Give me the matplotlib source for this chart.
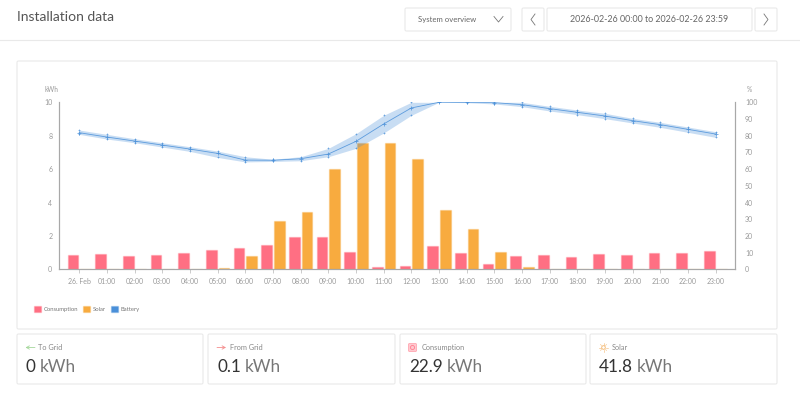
import numpy as np
import matplotlib
matplotlib.use("Agg")
import matplotlib.pyplot as plt
from matplotlib.patches import FancyBboxPatch, Patch, Circle

plt.rcParams['font.family'] = ['Lato', 'DejaVu Sans']

hours = ['26. Feb'] + ['%02d:00' % h for h in range(1, 24)]
consumption = [0.84, 0.92, 0.82, 0.84, 0.96, 1.16, 1.26, 1.48, 1.92, 1.96, 1.04, 0.14,
               0.20, 1.38, 0.98, 0.30, 0.82, 0.88, 0.74, 0.92, 0.84, 0.96, 0.98, 1.08]
solar = [0, 0, 0, 0, 0, 0.08, 0.80, 2.90, 3.45, 5.99, 7.54, 7.58,
         6.59, 3.58, 2.40, 1.04, 0.12, 0, 0, 0, 0, 0, 0, 0]
battery = [81.8, 79.2, 76.8, 74.4, 72.0, 69.4, 65.4, 65.3, 66.2, 69.0, 76.6, 87.0,
           96.6, 100, 99.9, 99.8, 98.6, 96.2, 94.0, 91.8, 89.0, 86.6, 83.8, 81.0]
battery_max = [83.4, 80.8, 78.2, 75.8, 73.4, 70.8, 67.4, 65.9, 67.4, 72.4, 81.2, 92.2,
               100, 100, 100, 100, 100, 97.6, 95.4, 93.4, 90.4, 88.0, 85.2, 82.4]
battery_min = [80.8, 78.0, 75.8, 73.2, 70.6, 67.0, 64.3, 64.6, 65.0, 67.4, 72.4, 81.6,
               92.2, 100, 99.8, 99.0, 97.4, 94.8, 92.6, 90.2, 87.6, 85.0, 82.0, 79.0]
kwh_ticks = [0, 2, 4, 6, 8, 10]
pct_ticks = list(range(0, 101, 10))

cards = ['To Grid', 'From Grid', 'Consumption', 'Solar']
card_values = ['0', '0.1', '22.9', '41.8']

RED = '#ff6f83'
ORANGE = '#f8ab3f'
BLUE = '#4a90d9'
BORDER = '#e9e9e9'
GREY = '#9a9a9a'
W, H = 800, 394

fig = plt.figure(figsize=(8, 3.94), dpi=100, facecolor='white')

# page furniture, in pixel coordinates
bg = fig.add_axes([0, 0, 1, 1])
bg.set_xlim(0, W)
bg.set_ylim(H, 0)
bg.axis('off')


def box(x0, y0, x1, y1):
    bg.add_patch(FancyBboxPatch((x0, y0), x1 - x0, y1 - y0, boxstyle='round,pad=0,rounding_size=1.5',
                                fc='white', ec=BORDER, lw=0.8))


bg.plot([0, W], [39.5, 39.5], color=BORDER, lw=0.8)
bg.text(17, 17, 'Installation data', fontsize=10, color='#555555', va='center', ha='left')

box(405, 8, 511, 31)
box(522, 8, 544, 31)
box(547, 8, 752, 31)
box(755, 8, 777, 31)
bg.text(418, 19.5, 'System overview', fontsize=5.6, color='#666666', va='center')
bg.text(649.5, 19.5, '2026-02-26 00:00 to 2026-02-26 23:59', fontsize=6.4, color='#666666',
        va='center', ha='center')
bg.plot([494, 498.5, 503], [16.5, 22, 16.5], color='#777777', lw=0.6)
bg.plot([535, 531, 535], [14, 19.5, 25], color='#777777', lw=0.6)
bg.plot([764, 768, 764], [14, 19.5, 25], color='#777777', lw=0.6)

box(17, 61, 777, 329)

card_x = [(17, 203), (208, 395), (400, 586), (590, 777)]
for (x0, x1), name, val in zip(card_x, cards, card_values):
    box(x0, 334, x1, 384)
    bg.text(x0 + 21.5, 347.3, name, fontsize=5.3, color='#888888', va='center')
    t = bg.text(x0 + 9, 366.5, val, fontsize=12.3, color='#333333', va='center')
    fig.canvas.draw()
    bb = t.get_window_extent()
    bg.text(bb.x1 + 4, 366.5, 'kWh', fontsize=12.3, color='#777777', va='center')

# small card icons
bg.annotate('', xy=(25.5, 347.5), xytext=(35, 347.5),
            arrowprops=dict(arrowstyle='->,head_width=0.12,head_length=0.22', color='#a5d79b', lw=0.6, shrinkA=0, shrinkB=0))
bg.annotate('', xy=(226, 347.5), xytext=(217, 347.5),
            arrowprops=dict(arrowstyle='->,head_width=0.12,head_length=0.22', color='#f58e8e', lw=0.6, shrinkA=0, shrinkB=0))
bg.add_patch(FancyBboxPatch((408.5, 343.5), 8, 8, boxstyle='round,pad=0,rounding_size=1',
                            fc='#ffc9cf', ec='#ff9aa7', lw=0.5))
bg.add_patch(Circle((412.5, 347.5), 2, fc='none', ec=RED, lw=0.5))
bg.add_patch(Circle((603.5, 347.5), 1.8, fc='none', ec='#f3b469', lw=0.6))
for a in np.arange(0, 2 * np.pi, np.pi / 4):
    bg.plot([603.5 + 2.9 * np.cos(a), 603.5 + 4.2 * np.cos(a)],
            [347.5 + 2.9 * np.sin(a), 347.5 + 4.2 * np.sin(a)], color='#f3b469', lw=0.4)

# chart
left, right, top, bottom = 59.3, 735.3, 102.3, 269.3
ax = fig.add_axes([left / W, (H - bottom) / H, (right - left) / W, (bottom - top) / H])
ax.patch.set_alpha(0)
x = np.arange(len(hours))
ax.bar(x - 0.23, consumption, width=0.385, color=RED, edgecolor=(1, 0.44, 0.51, 0.3), lw=1)
ax.bar(x + 0.23, solar, width=0.385, color=ORANGE, edgecolor=(0.97, 0.67, 0.25, 0.3), lw=1)
ax.set_xlim(-0.72, 23.71)
ax.set_ylim(0, 10)
ax.set_xticks(x)
ax.set_xticklabels(hours)
ax.set_yticks(kwh_ticks)
ax.tick_params(axis='x', length=3, width=0.7, color='#cccccc', labelsize=5, labelcolor=GREY, pad=3)
ax.tick_params(axis='y', length=0, labelsize=5, labelcolor=GREY, pad=5)

ax2 = ax.twinx()
ax2.set_ylim(0, 100)
ax2.set_yticks(pct_ticks)
ax2.tick_params(axis='y', length=0, labelsize=5, labelcolor=GREY, pad=7)
ax2.fill_between(x, battery_min, battery_max, color=BLUE, alpha=0.3, lw=0)
ax2.plot(x, battery, color=BLUE, lw=0.6, alpha=0.85, marker='+', ms=2.2, mew=0.6)
ax2.plot(x, battery_max, ls='none', color=BLUE, alpha=0.8, marker='+', ms=2, mew=0.5)
ax2.plot(x, battery_min, ls='none', color=BLUE, alpha=0.8, marker='+', ms=2, mew=0.5)

for a in (ax, ax2):
    a.spines['top'].set_visible(False)
    for s in ('left', 'right', 'bottom'):
        a.spines[s].set_color('#a8a8a8')
        a.spines[s].set_linewidth(0.8)

bg.text(51, 89.5, 'kWh', fontsize=4.8, color=GREY, ha='center', va='center')
bg.text(749, 89.5, '%', fontsize=4.8, color=GREY, ha='center', va='center')

handles = [Patch(fc=RED, ec=(1, 0.44, 0.51, 0.3), label='Consumption'),
           Patch(fc=ORANGE, ec=(0.97, 0.67, 0.25, 0.3), label='Solar'),
           Patch(fc=BLUE, ec=(0.29, 0.56, 0.85, 0.3), label='Battery')]
fig.legend(handles=handles, loc='center left', bbox_to_anchor=(34 / W, (H - 309) / H), ncol=3, frameon=False,
           fontsize=4.2, handlelength=1.2, handleheight=1.2, handletextpad=0.45, columnspacing=0.9,
           borderpad=0, borderaxespad=0, labelcolor='#777777')

fig.savefig('out.png', dpi=100)
